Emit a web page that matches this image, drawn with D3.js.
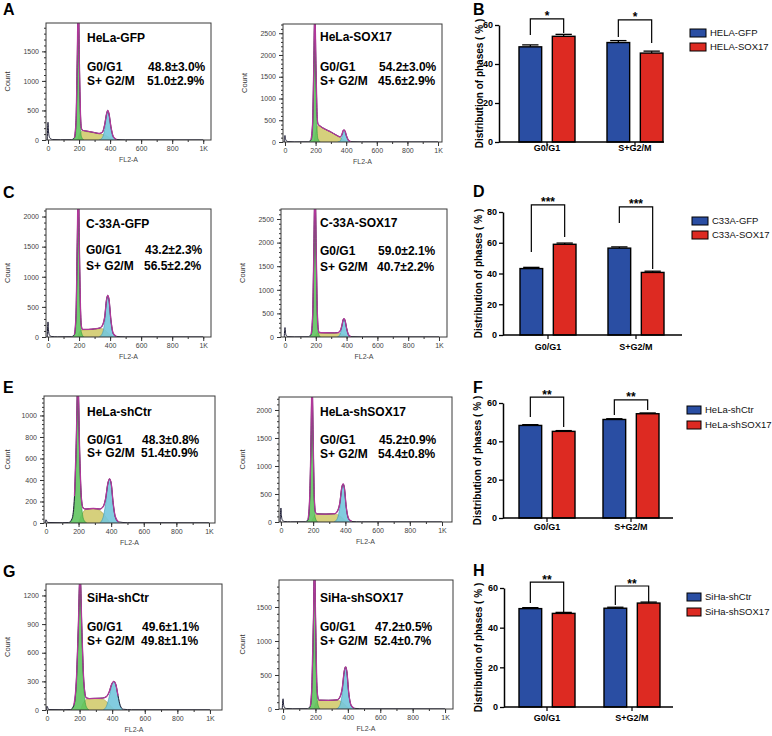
<!DOCTYPE html>
<html><head><meta charset="utf-8">
<script src="https://cdn.jsdelivr.net/npm/d3@7"></script>
<style>body{margin:0;background:#fff} svg{display:block;font-family:"Liberation Sans",Arial,sans-serif}</style>
</head><body><svg id="c" width="772" height="736"></svg>
<script>
// ---------------- DATA ----------------
const phases = ["G0/G1", "S+G2/M"];
const flTicks = [0, 200, 400, 600, 800, 1000];
const flTickLabels = ["0", "200", "400", "600", "800", "1K"];

// Histogram A : HeLa-GFP
const histA_g1 = [[160,0],[175,60],[183,350],[189,1300],[195,2400],[201,1300],[207,350],[215,60],[230,0]];
const histA_s  = [[190,0],[205,110],[220,150],[260,135],[300,120],[340,100],[370,80],[395,40],[420,0]];
const histA_g2 = [[330,0],[350,40],[365,180],[377,420],[385,480],[393,420],[405,180],[420,40],[440,0]];
const histA_tot = [[-5,0],[0,300],[3,150],[8,60],[15,25],[30,8],[80,4],[150,5],[170,40],[180,300],[188,1300],[195,2450],[202,1300],[209,450],[215,200],[222,165],[240,155],[270,140],[300,125],[330,110],[350,130],[365,260],[377,440],[385,500],[393,440],[405,230],[420,60],[440,10],[500,3],[1000,2]];
const histA_yTicks = [0, 500, 1000, 1500];

// Histogram A2 : HeLa-SOX17
const histA2_g1 = [[160,0],[175,80],[183,500],[189,1700],[195,3000],[201,1700],[207,500],[215,80],[230,0]];
const histA2_s  = [[190,0],[203,250],[215,380],[240,330],[280,260],[320,180],[350,120],[375,70],[400,20],[415,0]];
const histA2_g2 = [[345,0],[360,20],[370,100],[380,220],[386,240],[393,210],[403,100],[415,25],[430,0]];
const histA2_tot = [[-5,0],[0,150],[3,80],[8,30],[20,10],[60,3],[150,5],[170,50],[180,400],[188,1700],[195,3100],[202,1800],[209,700],[215,420],[230,365],[260,300],[300,230],[340,150],[360,118],[372,170],[380,260],[386,278],[393,245],[402,140],[415,40],[430,8],[500,3],[1000,2]];
const histA2_yTicks = [0, 500, 1000, 1500, 2000, 2500];

// Histogram C : C-33A-GFP
const histC_g1 = [[160,0],[175,80],[183,450],[189,1500],[195,2500],[201,1500],[207,450],[215,80],[230,0]];
const histC_s  = [[190,0],[205,90],[220,115],[260,120],[300,130],[340,140],[365,120],[390,60],[415,0]];
const histC_g2 = [[330,0],[350,60],[365,250],[377,600],[385,670],[393,600],[405,250],[420,50],[440,0]];
const histC_tot = [[-5,0],[0,250],[3,120],[8,40],[20,10],[60,3],[150,5],[170,40],[180,350],[188,1500],[195,2600],[202,1500],[209,500],[215,180],[222,125],[260,125],[300,135],[335,150],[352,200],[365,330],[377,620],[385,690],[393,620],[405,290],[420,60],[440,10],[500,3],[1000,2]];
const histC_yTicks = [0, 500, 1000, 1500, 2000];

// Histogram C2 : C-33A-SOX17
const histC2_g1 = [[160,0],[175,100],[183,600],[189,2000],[195,3200],[201,2000],[207,600],[215,100],[230,0]];
const histC2_s  = [[190,0],[205,70],[220,85],[280,85],[340,80],[370,60],[395,30],[415,0]];
const histC2_g2 = [[340,0],[355,40],[367,170],[377,340],[383,375],[390,340],[400,170],[412,40],[428,0]];
const histC2_tot = [[-5,0],[0,200],[3,100],[8,30],[20,8],[60,3],[150,5],[170,60],[180,500],[188,2000],[195,3300],[202,2000],[209,650],[215,200],[222,95],[260,90],[320,88],[345,95],[360,140],[370,250],[377,360],[383,390],[390,350],[400,190],[412,50],[428,8],[500,3],[1000,2]];
const histC2_yTicks = [0, 500, 1000, 1500, 2000, 2500];

// Histogram E : HeLa-shCtr
const histE_g1 = [[140,0],[160,30],[175,200],[185,600],[196,1300],[207,600],[217,200],[232,30],[250,0]];
const histE_s  = [[200,0],[220,80],[245,125],[280,135],[320,125],[350,90],[375,40],[395,0]];
const histE_g2 = [[330,0],[350,50],[365,170],[380,360],[390,405],[400,360],[412,170],[425,50],[445,0]];
const histE_tot = [[-5,0],[0,30],[10,5],[100,3],[140,5],[160,40],[175,250],[185,700],[196,1350],[207,650],[217,240],[228,140],[245,130],[290,135],[330,130],[350,150],[365,220],[380,370],[390,410],[400,370],[412,190],[425,60],[445,10],[500,3],[1000,2]];
const histE_yTicks = [0, 200, 400, 600, 800, 1000];

// Histogram E2 : HeLa-shSOX17
const histE2_g1 = [[160,0],[172,80],[181,500],[187,1500],[193,2500],[199,1500],[205,500],[213,80],[228,0]];
const histE2_s  = [[190,0],[205,100],[220,140],[280,140],[340,140],[365,110],[390,50],[410,0]];
const histE2_g2 = [[330,0],[350,60],[365,250],[378,580],[386,660],[394,580],[405,250],[420,50],[440,0]];
const histE2_tot = [[-5,0],[0,250],[3,120],[8,40],[20,10],[60,3],[150,5],[168,40],[178,400],[187,1500],[193,2600],[200,1500],[207,450],[214,180],[222,145],[280,142],[335,148],[352,200],[365,330],[378,620],[386,680],[394,610],[405,280],[420,60],[440,10],[500,3],[1000,2]];
const histE2_yTicks = [0, 500, 1000, 1500, 2000];

// Histogram G : SiHa-shCtr
const histG_g1 = [[145,0],[165,40],[180,250],[192,800],[203,1400],[214,800],[226,250],[240,40],[258,0]];
const histG_s  = [[205,0],[225,80],[250,115],[290,120],[340,115],[370,80],[395,35],[415,0]];
const histG_g2 = [[345,0],[365,40],[382,140],[398,260],[410,293],[422,260],[436,140],[450,40],[468,0]];
const histG_tot = [[-5,0],[0,40],[10,5],[100,3],[145,5],[165,50],[180,300],[192,850],[203,1450],[214,850],[226,300],[240,130],[260,120],[300,122],[340,125],[365,140],[382,190],[398,275],[410,300],[422,270],[436,150],[450,45],[468,8],[520,3],[1000,2]];
const histG_yTicks = [0, 300, 600, 900, 1200];

// Histogram G2 : SiHa-shSOX17
const histG2_g1 = [[160,0],[173,80],[182,450],[188,1300],[194,2100],[200,1300],[206,450],[214,80],[228,0]];
const histG2_s  = [[190,0],[205,100],[220,125],[280,125],[340,125],[365,100],[390,45],[410,0]];
const histG2_g2 = [[330,0],[350,50],[365,220],[378,530],[386,603],[394,530],[405,220],[420,50],[440,0]];
const histG2_tot = [[-5,0],[0,150],[3,70],[8,25],[20,8],[60,3],[150,5],[168,40],[178,350],[188,1350],[194,2200],[201,1300],[208,400],[215,170],[222,130],[280,128],[335,135],[352,180],[365,300],[378,560],[386,620],[394,550],[405,250],[420,55],[440,10],[500,3],[1000,2]];
const histG2_yTicks = [0, 500, 1000, 1500];

// Bar chart B
const barB_series = ["HELA-GFP", "HELA-SOX17"];
const barB_ctrl = [48.8, 51.0], barB_trt = [54.2, 45.6];
const barB_errCtrl = [1.0, 1.0], barB_errTrt = [1.0, 1.0];
const barB_sig = ["*", "*"];
const barB_bracketTop = [63.1, 62.6];
const barB_legEnds = [[54.9, 55.9], [53.8, 50.8]];
const barB_yTicks = [0, 20, 40, 60];

// Bar chart D
const barD_series = ["C33A-GFP", "C33A-SOX17"];
const barD_ctrl = [43.2, 56.5], barD_trt = [59.0, 40.7];
const barD_errCtrl = [0.8, 0.8], barD_errTrt = [0.8, 0.8];
const barD_sig = ["***", "***"];
const barD_bracketTop = [84.6, 83.3];
const barD_legEnds = [[54.0, 63.7], [72.8, 42.9]];
const barD_yTicks = [0, 20, 40, 60, 80];

// Bar chart F
const barF_series = ["HeLa-shCtr", "HeLa-shSOX17"];
const barF_ctrl = [48.3, 51.4], barF_trt = [45.2, 54.4];
const barF_errCtrl = [0.4, 0.4], barF_errTrt = [0.4, 0.4];
const barF_sig = ["**", "**"];
const barF_bracketTop = [63.1, 61.6];
const barF_legEnds = [[52.7, 47.5], [53.7, 56.3]];
const barF_yTicks = [0, 20, 40, 60];

// Bar chart H
const barH_series = ["SiHa-shCtr", "SiHa-shSOX17"];
const barH_ctrl = [49.6, 49.8], barH_trt = [47.2, 52.4];
const barH_errCtrl = [0.5, 0.5], barH_errTrt = [0.5, 0.5];
const barH_sig = ["**", "**"];
const barH_bracketTop = [63.0, 61.0];
const barH_legEnds = [[52.4, 47.9], [51.4, 53.0]];
const barH_yTicks = [0, 20, 40, 60];

// ---------------- DRAWING ----------------
const svg = d3.select("#c");
const defs = svg.append("defs");
const plainFmt = d3.format("d");

function drawHist(cfg, d) {
  const x = d3.scaleLinear().domain(cfg.xd).range([cfg.l, cfg.r]);
  const y = d3.scaleLinear().domain([0, cfg.ymax]).range([cfg.b, cfg.t]);
  const g = svg.append("g");
  const cid = "clip-" + cfg.id;
  defs.append("clipPath").attr("id", cid).append("rect")
    .attr("x", cfg.l).attr("y", cfg.t).attr("width", cfg.r - cfg.l).attr("height", cfg.b - cfg.t);
  const pg = g.append("g").attr("clip-path", `url(#${cid})`);
  const area = d3.area().x(p => x(p[0])).y0(y(0)).y1(p => y(p[1])).curve(d3.curveMonotoneX);
  const line = d3.line().x(p => x(p[0])).y(p => y(p[1])).curve(d3.curveMonotoneX);
  pg.append("path").attr("d", area(d.s)).attr("fill", "#d6d07c").attr("stroke", "#aaa24c").attr("stroke-width", 0.6);
  pg.append("path").attr("d", area(d.g1)).attr("fill", "#5cc35c").attr("fill-opacity", 0.88).attr("stroke", "#2f9a3a").attr("stroke-width", 0.6);
  pg.append("path").attr("d", area(d.g2)).attr("fill", "#74c7dc").attr("fill-opacity", 0.9).attr("stroke", "#3a96b2").attr("stroke-width", 0.6);
  pg.append("path").attr("d", line(d.tot)).attr("fill", "none").attr("stroke", "#1c1c34").attr("stroke-width", 1);
  pg.append("path").attr("d", line(d.tot.filter(p => p[0] >= 165 && p[0] <= 445)))
    .attr("fill", "none").attr("stroke", "#b0389a").attr("stroke-width", 1.3);

  // frame
  g.append("rect").attr("x", cfg.l).attr("y", cfg.t).attr("width", cfg.r - cfg.l).attr("height", cfg.b - cfg.t)
    .attr("fill", "none").attr("stroke", "#3a3a3a").attr("stroke-width", 1);

  // y axis
  const step = d.yTicks[1] - d.yTicks[0];
  const yMinor = d3.range(0, cfg.ymax, step / 5);
  const ya = g.append("g").attr("transform", `translate(${cfg.l},0)`)
    .call(d3.axisLeft(y).tickValues(yMinor).tickSize(2).tickFormat("").tickSizeOuter(0));
  ya.select(".domain").remove();
  const yb = g.append("g").attr("transform", `translate(${cfg.l},0)`)
    .call(d3.axisLeft(y).tickValues(d.yTicks).tickSize(4).tickPadding(3).tickSizeOuter(0).tickFormat(plainFmt));
  yb.select(".domain").remove();

  // x axis
  const xa = g.append("g").attr("transform", `translate(0,${cfg.b})`)
    .call(d3.axisBottom(x).tickValues(d3.range(0, 1001, 100)).tickSize(2).tickFormat("").tickSizeOuter(0));
  xa.select(".domain").remove();
  const xb = g.append("g").attr("transform", `translate(0,${cfg.b})`)
    .call(d3.axisBottom(x).tickValues(flTicks).tickSize(4).tickPadding(2).tickSizeOuter(0)
      .tickFormat((v, i) => flTickLabels[i]));
  xb.select(".domain").remove();
  [ya, yb, xa, xb].forEach(a => {
    a.selectAll("line").attr("stroke", "#333");
    a.selectAll("text").attr("font-size", 7).attr("fill", "#444").attr("font-family", '"Liberation Sans", Arial, sans-serif');
  });

  g.append("text").attr("transform", `translate(${cfg.countX},${(cfg.t + cfg.b) / 2}) rotate(-90)`)
    .attr("text-anchor", "middle").attr("font-size", 7.5).attr("fill", "#333").text("Count");
  g.append("text").attr("x", (cfg.l + cfg.r) / 2).attr("y", cfg.b + 22)
    .attr("text-anchor", "middle").attr("font-size", 7).attr("fill", "#444").text("FL2-A");

  const tg = g.append("g").attr("font-weight", "bold").attr("font-size", 12).attr("fill", "#000");
  tg.append("text").attr("x", cfg.tx).attr("y", cfg.ny).text(d.name);
  tg.append("text").attr("x", cfg.tx).attr("y", cfg.l1).text("G0/G1");
  tg.append("text").attr("x", cfg.tx).attr("y", cfg.l2).text("S+ G2/M");
  tg.append("text").attr("x", cfg.vx).attr("y", cfg.l1).text(d.v1);
  tg.append("text").attr("x", cfg.vx - 1).attr("y", cfg.l2).text(d.v2);
}

function drawBars(cfg, d) {
  const g = svg.append("g");
  const y = d3.scaleLinear().domain([0, cfg.ymax]).range([cfg.y0, cfg.y1]);
  const xg = d3.scalePoint().domain(phases).range(cfg.centers);
  const xs = d3.scaleBand().domain([0, 1]).range([-cfg.half, cfg.half]).paddingInner(0.32);
  const colors = ["#2a4ea3", "#dd2a22"];
  const rows = [];
  phases.forEach((p, i) => {
    rows.push({p, s: 0, v: d.ctrl[i], e: d.errC[i]});
    rows.push({p, s: 1, v: d.trt[i], e: d.errT[i]});
  });
  // error bars
  rows.forEach(r => {
    const cx = xg(r.p) + xs(r.s) + xs.bandwidth() / 2;
    const cw = xs.bandwidth() * 0.36;
    g.append("line").attr("x1", cx).attr("x2", cx).attr("y1", y(r.v)).attr("y2", y(r.v + r.e)).attr("stroke", "#000").attr("stroke-width", 1.3);
    g.append("line").attr("x1", cx - cw).attr("x2", cx + cw).attr("y1", y(r.v + r.e)).attr("y2", y(r.v + r.e)).attr("stroke", "#000").attr("stroke-width", 1.3);
  });
  g.selectAll("rect.bar").data(rows).join("rect").attr("class", "bar")
    .attr("x", r => xg(r.p) + xs(r.s)).attr("width", xs.bandwidth())
    .attr("y", r => y(r.v)).attr("height", r => y(0) - y(r.v))
    .attr("fill", r => colors[r.s]).attr("stroke", "#000").attr("stroke-width", 1.4);

  // axes
  const ya = g.append("g").attr("transform", `translate(${cfg.ax},0)`)
    .call(d3.axisLeft(y).tickValues(d.yTicks).tickSize(4).tickPadding(2).tickSizeOuter(0));
  ya.select(".domain").attr("stroke-width", 1.5);
  ya.selectAll("line").attr("stroke-width", 1.3);
  ya.selectAll("text").attr("font-size", 9).attr("font-weight", "bold").attr("fill", "#000");
  g.append("line").attr("x1", cfg.ax).attr("x2", cfg.xr).attr("y1", cfg.y0).attr("y2", cfg.y0).attr("stroke", "#000").attr("stroke-width", 1.5);
  phases.forEach(p => {
    g.append("line").attr("x1", xg(p)).attr("x2", xg(p)).attr("y1", cfg.y0).attr("y2", cfg.y0 + 4).attr("stroke", "#000").attr("stroke-width", 1.2);
    g.append("text").attr("x", xg(p)).attr("y", cfg.labY).attr("text-anchor", "middle")
      .attr("font-size", 9).attr("font-weight", "bold").text(p);
  });
  g.append("text").attr("transform", `translate(${cfg.ylx},${(cfg.y0 + cfg.y1) / 2}) rotate(-90)`)
    .attr("text-anchor", "middle").attr("font-size", 10).attr("font-weight", "bold").text("Distribution of phases ( % )");

  // brackets
  phases.forEach((p, i) => {
    const xa = xg(p) + xs(0) + xs.bandwidth() / 2, xb = xg(p) + xs(1) + xs.bandwidth() / 2;
    const top = y(d.bTop[i]);
    g.append("path").attr("d", `M${xa},${y(d.legs[i][0])}V${top}H${xb}V${y(d.legs[i][1])}`)
      .attr("fill", "none").attr("stroke", "#000").attr("stroke-width", 1.2);
    g.append("text").attr("x", (xa + xb) / 2).attr("y", top + 1.5).attr("text-anchor", "middle")
      .attr("font-size", 12).attr("font-weight", "bold").text(d.sig[i]);
  });

  // legend
  d.series.forEach((s, i) => {
    const ly = cfg.legY + i * cfg.legDy;
    g.append("rect").attr("x", cfg.legX).attr("y", ly).attr("width", cfg.legW).attr("height", cfg.legH)
      .attr("fill", colors[i]).attr("stroke", "#000").attr("stroke-width", 1);
    g.append("text").attr("x", cfg.legX + cfg.legW + 4).attr("y", ly + cfg.legH / 2 + 3.3)
      .attr("font-size", 9.5).attr("fill", "#111").text(s);
  });
}

// panel letters
[["A", 3, 15], ["B", 473, 15], ["C", 3, 198], ["D", 473, 197], ["E", 3, 393], ["F", 473, 393], ["G", 3, 577], ["H", 473, 576]]
  .forEach(([t, x, y]) => svg.append("text").attr("x", x).attr("y", y).attr("font-size", 16).attr("font-weight", "bold").text(t));

drawHist({id: "A", l: 46, t: 23, r: 211, b: 140, xd: [-13, 1050], ymax: 1980, countX: 10, tx: 87, ny: 42, l1: 71, l2: 85, vx: 148},
  {g1: histA_g1, s: histA_s, g2: histA_g2, tot: histA_tot, yTicks: histA_yTicks, name: "HeLa-GFP", v1: "48.8±3.0%", v2: "51.0±2.9%"});
drawHist({id: "A2", l: 283, t: 24, r: 442, b: 142, xd: [-13, 1026], ymax: 2712, countX: 247, tx: 320, ny: 41, l1: 71, l2: 85, vx: 379},
  {g1: histA2_g1, s: histA2_s, g2: histA2_g2, tot: histA2_tot, yTicks: histA2_yTicks, name: "HeLa-SOX17", v1: "54.2±3.0%", v2: "45.6±2.9%"});
drawHist({id: "C", l: 46, t: 209, r: 211, b: 337, xd: [-13, 1050], ymax: 2125, countX: 10, tx: 86, ny: 228, l1: 254, l2: 270, vx: 145},
  {g1: histC_g1, s: histC_s, g2: histC_g2, tot: histC_tot, yTicks: histC_yTicks, name: "C-33A-GFP", v1: "43.2±2.3%", v2: "56.5±2.2%"});
drawHist({id: "C2", l: 281, t: 209, r: 447, b: 337, xd: [-26, 1052], ymax: 2712, countX: 245, tx: 320, ny: 227, l1: 255, l2: 271, vx: 378},
  {g1: histC2_g1, s: histC2_s, g2: histC2_g2, tot: histC2_tot, yTicks: histC2_yTicks, name: "C-33A-SOX17", v1: "59.0±2.1%", v2: "40.7±2.2%"});
drawHist({id: "E", l: 44, t: 396, r: 215, b: 523, xd: [-12, 1037], ymax: 1181, countX: 10, tx: 87, ny: 416, l1: 444, l2: 457, vx: 142},
  {g1: histE_g1, s: histE_s, g2: histE_g2, tot: histE_tot, yTicks: histE_yTicks, name: "HeLa-shCtr", v1: "48.3±0.8%", v2: "51.4±0.9%"});
drawHist({id: "E2", l: 279, t: 397, r: 452, b: 522, xd: [-12, 1062], ymax: 2232, countX: 245, tx: 320, ny: 416, l1: 444, l2: 458, vx: 379},
  {g1: histE2_g1, s: histE2_s, g2: histE2_g2, tot: histE2_tot, yTicks: histE2_yTicks, name: "HeLa-shSOX17", v1: "45.2±0.9%", v2: "54.4±0.8%"});
drawHist({id: "G", l: 46, t: 584, r: 222, b: 710, xd: [-6, 1074], ymax: 1320, countX: 10, tx: 87, ny: 602, l1: 631, l2: 645, vx: 142},
  {g1: histG_g1, s: histG_s, g2: histG_g2, tot: histG_tot, yTicks: histG_yTicks, name: "SiHa-shCtr", v1: "49.6±1.1%", v2: "49.8±1.1%"});
drawHist({id: "G2", l: 279, t: 580, r: 453, b: 709, xd: [-25, 1049], ymax: 1897, countX: 245, tx: 320, ny: 602, l1: 631, l2: 645, vx: 375},
  {g1: histG2_g1, s: histG2_s, g2: histG2_g2, tot: histG2_tot, yTicks: histG2_yTicks, name: "SiHa-shSOX17", v1: "47.2±0.5%", v2: "52.4±0.7%"});

drawBars({ymax: 60, y0: 142, y1: 25, ax: 499, xr: 664, centers: [547, 635], half: 28, labY: 151, ylx: 483,
  legX: 690, legY: 29, legDy: 14, legW: 16, legH: 8},
  {series: barB_series, ctrl: barB_ctrl, trt: barB_trt, errC: barB_errCtrl, errT: barB_errTrt, sig: barB_sig, bTop: barB_bracketTop, legs: barB_legEnds, yTicks: barB_yTicks});
drawBars({ymax: 80, y0: 335, y1: 212, ax: 503, xr: 682, centers: [548, 636], half: 28, labY: 350, ylx: 482,
  legX: 692, legY: 217, legDy: 14, legW: 16, legH: 8},
  {series: barD_series, ctrl: barD_ctrl, trt: barD_trt, errC: barD_errCtrl, errT: barD_errTrt, sig: barD_sig, bTop: barD_bracketTop, legs: barD_legEnds, yTicks: barD_yTicks});
drawBars({ymax: 60, y0: 518, y1: 403, ax: 503, xr: 673, centers: [547, 631], half: 28, labY: 530, ylx: 481,
  legX: 687, legY: 406, legDy: 15, legW: 14, legH: 8},
  {series: barF_series, ctrl: barF_ctrl, trt: barF_trt, errC: barF_errCtrl, errT: barF_errTrt, sig: barF_sig, bTop: barF_bracketTop, legs: barF_legEnds, yTicks: barF_yTicks});
drawBars({ymax: 60, y0: 707, y1: 588, ax: 504, xr: 673, centers: [547, 632], half: 28, labY: 721, ylx: 482,
  legX: 687, legY: 593, legDy: 15, legW: 14, legH: 8},
  {series: barH_series, ctrl: barH_ctrl, trt: barH_trt, errC: barH_errCtrl, errT: barH_errTrt, sig: barH_sig, bTop: barH_bracketTop, legs: barH_legEnds, yTicks: barH_yTicks});
</script>
</body></html>
